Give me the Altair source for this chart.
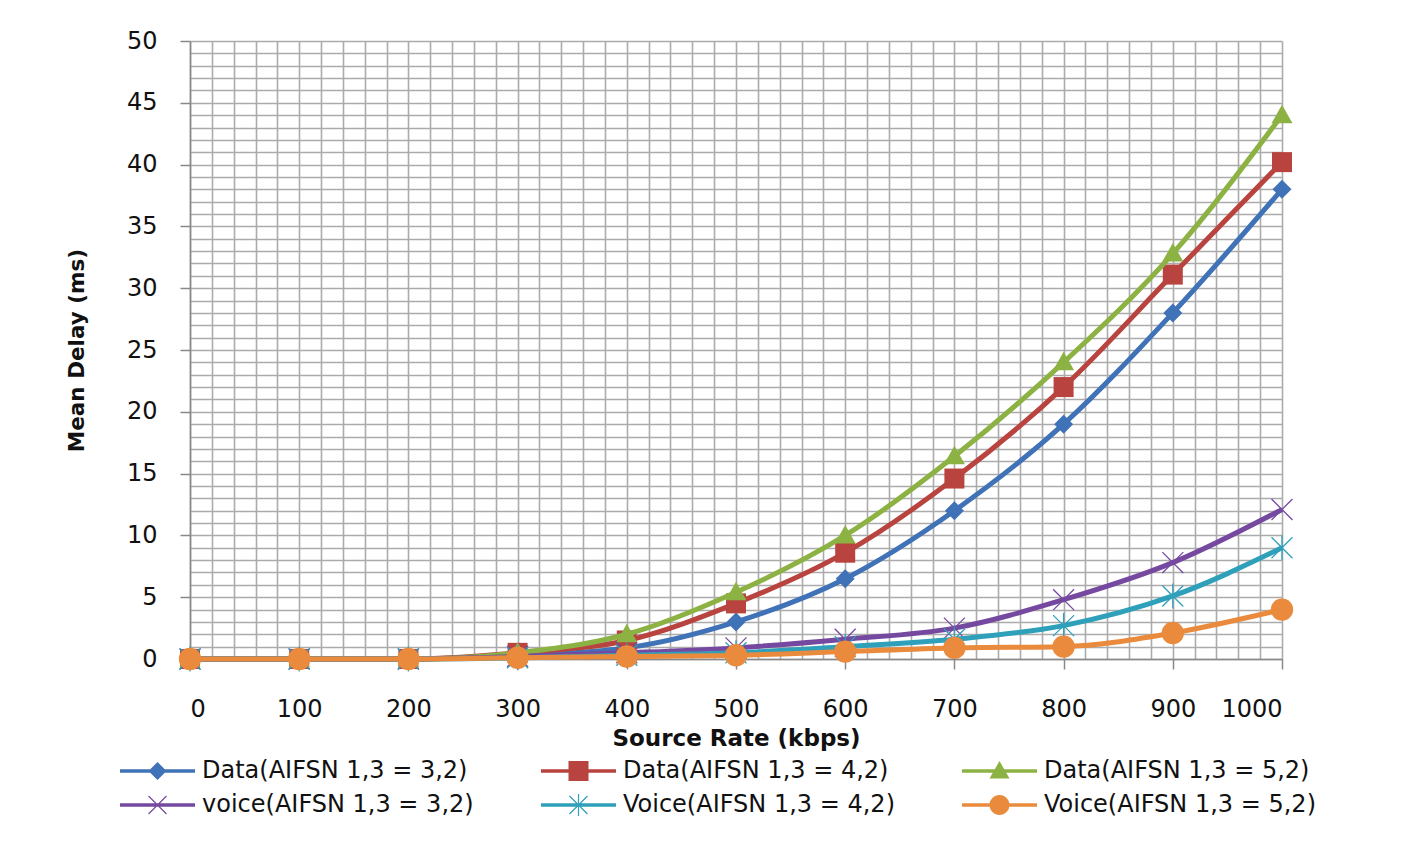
import altair as alt
import pandas as pd
import math

source_rate = [0, 100, 200, 300, 400, 500, 600, 700, 800, 900, 1000]

series_names = [
    "Data(AIFSN 1,3 = 3,2)",
    "Data(AIFSN 1,3 = 4,2)",
    "Data(AIFSN 1,3 = 5,2)",
    "voice(AIFSN 1,3 = 3,2)",
    "Voice(AIFSN 1,3 = 4,2)",
    "Voice(AIFSN 1,3 = 5,2)",
]

data_32 = [0, 0, 0, 0.3, 0.9, 3.0, 6.5, 12.0, 19.0, 28.0, 38.0]
data_42 = [0, 0, 0, 0.5, 1.5, 4.5, 8.6, 14.6, 22.0, 31.1, 40.2]
data_52 = [0, 0, 0, 0.5, 2.0, 5.4, 10.0, 16.4, 24.0, 32.8, 44.0]
voice_32 = [0, 0, 0, 0.2, 0.5, 0.9, 1.6, 2.5, 4.8, 7.8, 12.1]
voice_42 = [0, 0, 0, 0.1, 0.3, 0.5, 1.0, 1.6, 2.7, 5.1, 9.0]
voice_52 = [0, 0, 0, 0.1, 0.2, 0.3, 0.6, 0.9, 1.0, 2.1, 4.0]

series_values = [data_32, data_42, data_52, voice_32, voice_42, voice_52]

colors = ["#3F72B6", "#B8433F", "#8DB244", "#7649A1", "#2FA0BA", "#E98A3C"]

rows = []
for name, vals in zip(series_names, series_values):
    for x, y in zip(source_rate, vals):
        rows.append({"series": name, "rate": x, "delay": y})
df = pd.DataFrame(rows)

FONT = "DejaVu Sans"

# marker shapes (unit coords, scaled by sqrt(size)/2)
marker_paths = [
    ("M0,-0.95L0.95,0L0,0.95L-0.95,0Z", True),
    ("M-1,-1H1V1H-1Z", True),
    ("M0,-1.05L1.05,0.8H-1.05Z", True),
    ("M-1,-1L1,1M-1,1L1,-1", False),
    ("M-1,-1L1,1M-1,1L1,-1M0,-1.2L0,1.2", False),
    ("circle", True),
]


def rect(x0, y0, x1, y1):
    return f"M{x0},{y0}H{x1}V{y1}H{x0}Z"


def thick_seg(ax, ay, bx, by, t):
    dx, dy = bx - ax, by - ay
    L = math.hypot(dx, dy)
    nx, ny = -dy / L * t, dx / L * t
    pts = [(ax + nx, ay + ny), (bx + nx, by + ny), (bx - nx, by - ny), (ax - nx, ay - ny)]
    area = 0
    for i in range(4):
        x1, y1 = pts[i]
        x2, y2 = pts[(i + 1) % 4]
        area += x1 * y2 - x2 * y1
    if area < 0:
        pts = pts[::-1]
    return "M" + "L".join(f"{p[0]:.3f},{p[1]:.3f}" for p in pts) + "Z"


cx = 2.75
line = rect(-1, -0.18, 6.5, 0.18)
xmark = thick_seg(cx - 0.9, -0.9, cx + 0.9, 0.9, 0.06) + thick_seg(cx - 0.9, 0.9, cx + 0.9, -0.9, 0.06)
legend_paths = [
    line + f"M{cx},-0.9L{cx+0.9},0L{cx},0.9L{cx-0.9},0Z",
    line + rect(cx - 1, -1, cx + 1, 1),
    line + f"M{cx},-1L{cx+1},0.75H{cx-1}Z",
    line + xmark,
    line + xmark + rect(cx - 0.06, -1.1, cx + 0.06, 1.1),
    line + f"M{cx-1},0A1,1 0 1,1 {cx+1},0A1,1 0 1,1 {cx-1},0Z",
]

# legend fills column by column (2 rows x 3 columns)
legend_order = [0, 3, 1, 4, 2, 5]
legend_domain = [series_names[i] for i in legend_order]
legend_colors = [colors[i] for i in legend_order]
legend_shapes = [legend_paths[i] for i in legend_order]

x_enc = alt.X(
    "rate:Q",
    scale=alt.Scale(domain=[0, 1000], nice=False, zero=False),
    axis=alt.Axis(
        values=list(range(0, 1001, 20)),
        labelExpr="datum.value % 100 === 0 ? '' + datum.value : ''",
        labelOverlap=False,
        tickOpacity={"condition": {"test": "datum.value % 100 === 0", "value": 1}, "value": 0},
        title="Source Rate (kbps)",
        titleY=79,
        titleBaseline="middle",
        titleFontSize=23,
        labelPadding=28,
    ),
)
y_enc = alt.Y(
    "delay:Q",
    scale=alt.Scale(domain=[0, 50], nice=False),
    axis=alt.Axis(
        values=list(range(0, 51, 1)),
        labelExpr="datum.value % 5 === 0 ? '' + datum.value : ''",
        labelOverlap=False,
        tickOpacity={"condition": {"test": "datum.value % 5 === 0", "value": 1}, "value": 0},
        title="Mean Delay (ms)",
        titleX=-113,
        titleY=309,
        titleBaseline="middle",
        titleFontSize=21.5,
        labelPadding=23,
    ),
)

base = alt.Chart(df)
layers = []
for name, (path, filled), col in zip(series_names, marker_paths, colors):
    sub = base.transform_filter(alt.datum.series == name)
    layers.append(
        sub.mark_line(strokeWidth=5, interpolate="monotone", color=col).encode(x=x_enc, y=y_enc)
    )
    if filled:
        pts = sub.mark_point(shape=path, filled=True, size=400 if path != "circle" else 500,
                             opacity=1, color=col)
    else:
        pts = sub.mark_point(shape=path, filled=False, size=440, strokeWidth=1.3, opacity=1, color=col)
    layers.append(pts.encode(x=x_enc, y=y_enc))

legend_layer = base.transform_filter("false").mark_point(filled=True, opacity=1).encode(
    x=x_enc,
    y=y_enc,
    color=alt.Color(
        "series:N",
        scale=alt.Scale(domain=legend_domain, range=legend_colors),
        legend=alt.Legend(
            title=None,
            orient="none",
            legendX=-72,
            legendY=718,
            columns=3,
            columnPadding=65,
            rowPadding=10,
            symbolSize=400,
            symbolStrokeWidth=0,
            labelOffset=60,
            labelFont=FONT,
            labelFontSize=24,
            labelColor="#111111",
            labelLimit=500,
        ),
    ),
    shape=alt.Shape("series:N", scale=alt.Scale(domain=legend_domain, range=legend_shapes)),
)

chart = (
    alt.layer(*layers, legend_layer)
    .properties(
        width=1092,
        height=618,
        autosize=alt.AutoSizeParams(type="none"),
        padding={"left": 182, "top": 33, "right": 120, "bottom": 180},
        background="white",
    )
    .configure_view(stroke=None)
    .configure_axis(
        gridColor="#ababab",
        gridWidth=1.6,
        domainColor="#888888",
        domainWidth=1.5,
        tickColor="#888888",
        tickWidth=1.5,
        tickSize=10,
        labelFont=FONT,
        labelFontSize=24,
        labelColor="#111111",
        titleFont=FONT,
        titleFontWeight="bold",
        titleColor="#111111",
    )
)

chart.save("out.html", embed_options={"renderer": "svg", "actions": False})
